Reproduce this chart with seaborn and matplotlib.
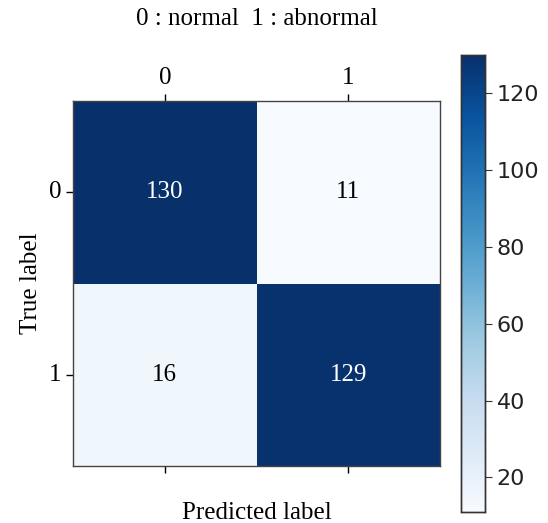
import matplotlib
matplotlib.use("Agg")
import matplotlib.pyplot as plt
import numpy as np
import seaborn as sns

labels = ["0", "1"]
counts = [[130, 11],
          [16, 129]]

sns.set_style("white")
plt.rcParams["font.family"] = ["Liberation Serif", "DejaVu Serif"]
plt.rcParams["text.color"] = "black"
plt.rcParams["axes.labelcolor"] = "black"
plt.rcParams["xtick.color"] = "black"
plt.rcParams["ytick.color"] = "black"

fig = plt.figure(figsize=(5.48, 5.23), dpi=100)
ax = fig.add_axes([73 / 548, 57 / 523, 367 / 548, 365 / 523])
cax = fig.add_axes([461 / 548, 11 / 523, 24 / 548, 457 / 523])

cm = np.array(counts)
sns.heatmap(cm, ax=ax, cbar_ax=cax, cmap="Blues", annot=False,
            xticklabels=labels, yticklabels=labels, square=False)

# cell annotations, white on dark cells
thresh = cm.max() / 2.0
for i in range(cm.shape[0]):
    for j in range(cm.shape[1]):
        ax.text(j + 0.5, i + 0.5, str(cm[i, j]), ha="center", va="center",
                fontsize=18, color="white" if cm[i, j] > thresh else "black")

ax.xaxis.tick_top()
ax.tick_params(axis="x", which="both", top=True, bottom=True, labeltop=True,
               labelbottom=False, length=5, width=1, color="black", labelsize=18)
ax.tick_params(axis="y", left=True, length=5, width=1, color="black", labelsize=18)
ax.set_yticklabels(labels, rotation=0)
ax.xaxis.set_label_position("bottom")
ax.set_xlabel("Predicted label", fontsize=18, labelpad=21)
ax.set_ylabel("True label", fontsize=18, labelpad=5)
for sp in ax.spines.values():
    sp.set_visible(True)
    sp.set_color("#444444")
    sp.set_linewidth(1)

cax.tick_params(labelsize=16, length=5, color="#333333", labelcolor="#222222")
for t in cax.get_yticklabels():
    t.set_fontfamily("DejaVu Sans")
cax.set_yticks([20, 40, 60, 80, 100, 120])
for sp in cax.spines.values():
    sp.set_visible(True)
    sp.set_color("#333333")
    sp.set_linewidth(1)

fig.text(ax.get_position().x0 + ax.get_position().width / 2, 1 - 19 / 523,
         "0 : normal  1 : abnormal", ha="center", va="center", fontsize=18)

fig.savefig("out.png", dpi=100)
